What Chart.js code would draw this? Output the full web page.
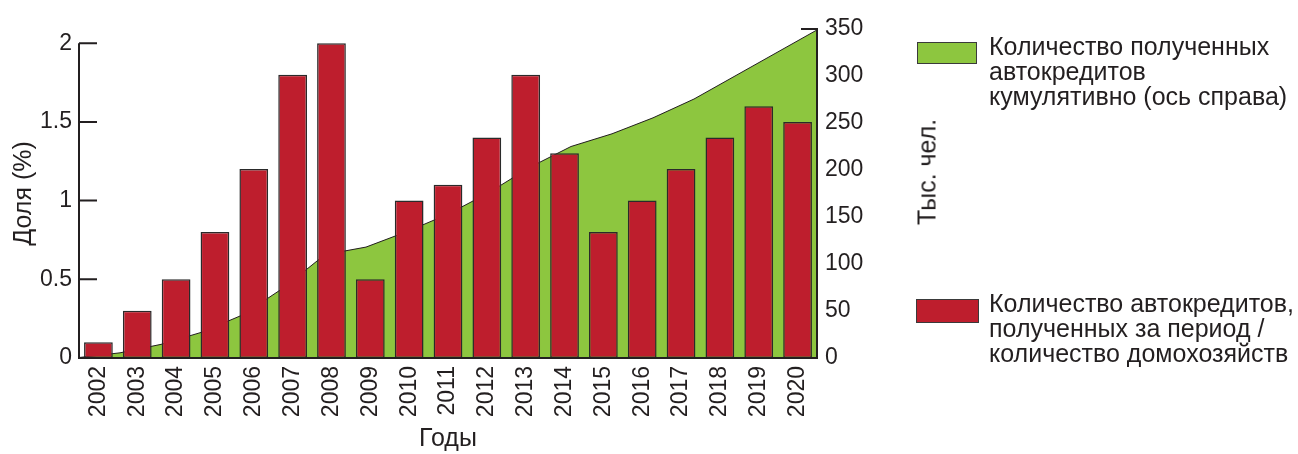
<!DOCTYPE html>
<html lang="ru">
<head>
<meta charset="utf-8">
<title>Автокредиты</title>
<script src="https://cdn.jsdelivr.net/npm/chart.js@4"></script>
<style>
    html, body { margin: 0; padding: 0; background: #fff; }
    .wrap { position: relative; width: 1298px; height: 454px; font-family: "Liberation Sans", Arial, sans-serif; color: #231f20; }
    canvas { position: absolute; left: 0; top: 0; }
    .box { position: absolute; border: 1px solid #3a3a3a; box-sizing: border-box; }
    .txt { position: absolute; font-size: 25px; line-height: 25px; white-space: nowrap; }
    .unit { position: absolute; font-size: 25px; white-space: nowrap; transform: translate(-50%, -50%) rotate(-90deg); }
</style>
</head>
<body>
<div class="wrap">
    <canvas id="autoChart" width="1298" height="454"></canvas>

    <div class="box" style="left:917px; top:42px; width:60px; height:22px; background:#8dc63f;"></div>
    <div class="txt" style="left:989px; top:34px;">Количество полученных<br>автокредитов<br>кумулятивно (ось справа)</div>

    <div class="box" style="left:916px; top:299px; width:63px; height:24px; background:#be1e2d;"></div>
    <div class="txt" style="left:989px; top:291px;">Количество автокредитов,<br>полученных за период /<br>количество домохозяйств</div>

    <div class="unit" style="left:927px; top:172px;">Тыс. чел.</div>
</div>

<script>
// Данные
const years = ['2002', '2003', '2004', '2005', '2006', '2007', '2008', '2009', '2010', '2011',
               '2012', '2013', '2014', '2015', '2016', '2017', '2018', '2019', '2020'];
// Доля (%) - столбцы, левая ось
const shareValues = [0.1, 0.3, 0.5, 0.8, 1.2, 1.8, 2.0, 0.5, 1.0, 1.1,
                     1.4, 1.8, 1.3, 0.8, 1.0, 1.2, 1.4, 1.6, 1.5];
// Тыс. чел. кумулятивно - область, правая ось
const cumulativeValues = [0.5, 5.5, 14.5, 27.5, 46, 75, 110, 118, 134.5, 153,
                          176, 203, 225, 238.5, 255.5, 275.5, 300, 324.5, 349];
const leftTicks = [0, 0.5, 1, 1.5, 2];
const rightTicks = [0, 50, 100, 150, 200, 250, 300, 350];

const TICK_FONT = { family: 'Liberation Sans', size: 23 };
const TITLE_FONT = { family: 'Liberation Sans', size: 25 };
const INK = '#231f20';

document.addEventListener('DOMContentLoaded', function () {
    initAutoChart();
});

/**
 * Оси рисуются вручную: засечки смотрят внутрь графика.
 */
const axisLines = {
    id: 'axisLines',
    beforeDatasetsDraw(chart) {
        const { ctx, scales: { y, y1 } } = chart;
        ctx.save();
        ctx.strokeStyle = INK;
        ctx.lineWidth = 2;

        // левая ось
        const xl = y.left + y.width;
        ctx.beginPath();
        ctx.moveTo(xl, y.getPixelForValue(leftTicks[leftTicks.length - 1]));
        ctx.lineTo(xl, y.getPixelForValue(0) + 1);
        leftTicks.forEach(v => {
            const py = y.getPixelForValue(v);
            ctx.moveTo(xl, py);
            ctx.lineTo(xl + 18, py);
        });
        ctx.stroke();

        // засечки правой оси (под областью)
        const xr = y1.left;
        ctx.beginPath();
        rightTicks.forEach(v => {
            const py = y1.getPixelForValue(v);
            ctx.moveTo(xr, py);
            ctx.lineTo(xr - 16, py);
        });
        ctx.stroke();
        ctx.restore();
    },
    afterDatasetsDraw(chart) {
        const { ctx, scales: { y1, x } } = chart;
        ctx.save();
        ctx.strokeStyle = INK;
        ctx.lineWidth = 2;
        ctx.beginPath();
        ctx.moveTo(y1.left, y1.getPixelForValue(350) - 1);
        ctx.lineTo(y1.left, y1.getPixelForValue(0) + 1);
        ctx.moveTo(x.left, x.top);
        ctx.lineTo(x.right, x.top);
        ctx.stroke();
        ctx.restore();
    }
};

function initAutoChart() {
    const ctx = document.getElementById('autoChart');

    new Chart(ctx, {
        data: {
            labels: years,
            datasets: [{
                type: 'bar',
                label: 'Количество автокредитов, полученных за период / количество домохозяйств',
                data: shareValues,
                backgroundColor: '#be1e2d',
                borderColor: '#2a2a2a',
                borderWidth: 1.5,
                borderSkipped: false,
                grouped: false,
                categoryPercentage: 0.74,
                barPercentage: 1,
                xAxisID: 'x',
                yAxisID: 'y',
                order: 1
            }, {
                type: 'line',
                label: 'Количество полученных автокредитов кумулятивно (ось справа)',
                data: cumulativeValues,
                borderColor: '#231f20',
                borderWidth: 1,
                backgroundColor: '#8dc63f',
                fill: 'origin',
                tension: 0,
                pointRadius: 0,
                xAxisID: 'x2',
                yAxisID: 'y1',
                order: 2
            }]
        },
        options: {
            responsive: false,
            animation: false,
            layout: { padding: { top: 29, right: 353, bottom: 0, left: 0 } },
            plugins: {
                legend: { display: false },
                tooltip: { enabled: false }
            },
            scales: {
                x: {
                    type: 'category',
                    offset: true,
                    grid: { display: false, drawTicks: false },
                    border: { display: false },
                    ticks: {
                        color: INK,
                        font: TICK_FONT,
                        minRotation: 90,
                        maxRotation: 90,
                        padding: 8,
                        autoSkip: false
                    },
                    title: {
                        display: true,
                        text: 'Годы',
                        color: INK,
                        font: TITLE_FONT,
                        padding: { top: 0, bottom: 0 }
                    },
                    afterFit: s => { s.height = 96; }
                },
                x2: {
                    type: 'category',
                    offset: false,
                    display: false
                },
                y: {
                    position: 'left',
                    min: 0,
                    max: 2.09,
                    grid: { display: false, drawTicks: false },
                    border: { display: false },
                    afterBuildTicks: s => { s.ticks = leftTicks.map(v => ({ value: v })); },
                    ticks: {
                        color: INK,
                        font: TICK_FONT,
                        padding: 7,
                        callback: v => String(v)
                    },
                    title: {
                        display: true,
                        text: 'Доля (%)',
                        color: INK,
                        font: TITLE_FONT,
                        padding: { top: 9, bottom: 0 }
                    },
                    afterFit: s => { s.width = 79; }
                },
                y1: {
                    position: 'right',
                    min: 0,
                    max: 350,
                    grid: { display: false, drawTicks: false },
                    border: { display: false },
                    afterBuildTicks: s => { s.ticks = rightTicks.map(v => ({ value: v })); },
                    ticks: {
                        color: INK,
                        font: TICK_FONT,
                        padding: 8
                    },
                    afterFit: s => { s.width = 128; }
                }
            }
        },
        plugins: [axisLines]
    });
}
</script>
</body>
</html>
